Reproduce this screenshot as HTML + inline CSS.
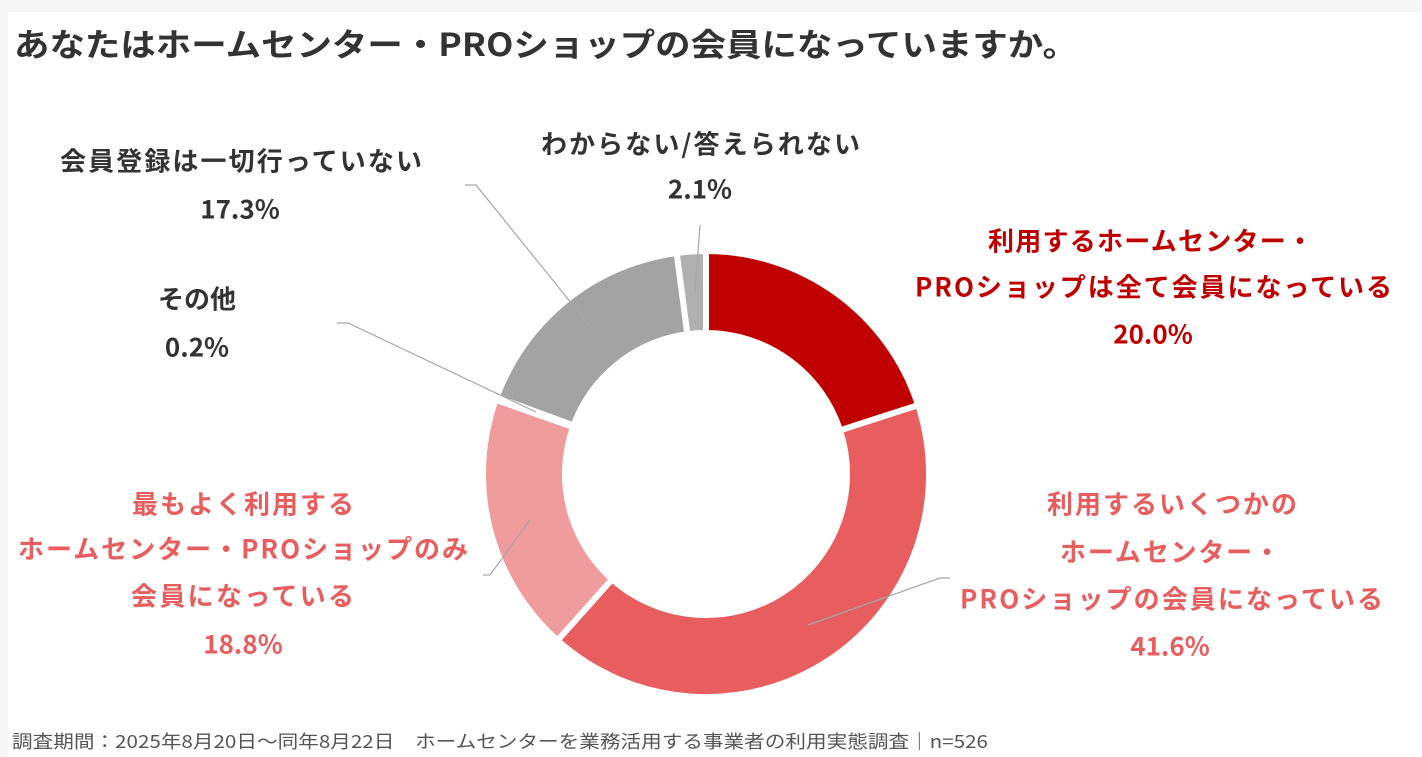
<!DOCTYPE html>
<html><head><meta charset="utf-8"><style>
html,body{margin:0;padding:0;background:#f6f6f6;width:1422px;height:757px;overflow:hidden}
svg{display:block}
text{font-family:"Noto Sans CJK JP","Liberation Sans",sans-serif;font-weight:bold}
</style></head><body>
<svg width="1422" height="757" viewBox="0 0 1422 757">
<rect x="8" y="12" width="1414" height="745" fill="#fff"/>
<text x="14" y="56" font-size="32" fill="#333" textLength="1064" lengthAdjust="spacingAndGlyphs">あなたはホームセンター・PROショップの会員になっていますか。</text>
<g stroke="#fff" stroke-width="6" stroke-linejoin="miter">
<path d="M706,251 A223,223 0 0 1 918.1,405.1 L840.1,430.4 A141,141 0 0 0 706,333 Z" fill="#C00000"/>
<path d="M918.1,405.1 A223,223 0 0 1 557.5,640.4 L612.1,579.2 A141,141 0 0 0 840.1,430.4 Z" fill="#E85D5D"/>
<path d="M557.5,640.4 A223,223 0 0 1 495.7,399.8 L573.0,427.1 A141,141 0 0 0 612.1,579.2 Z" fill="#F09C9C"/>
<path d="M496.7,397.2 A223,223 0 0 1 676.7,253 L687.4,334.2 A141,141 0 0 0 573.6,425.4 Z" fill="#A3A3A3"/>
<path d="M676.7,253 A223,223 0 0 1 706,251 L706,333 A141,141 0 0 0 687.4,334.2 Z" fill="#B0B0B0"/>
</g>
<g stroke="#a6a6a6" stroke-width="1.2" fill="none">
<polyline points="700,225 695,292"/>
<polyline points="465,185 476,185 593,330"/>
<polyline points="337,323 348,323 536,412"/>
<polyline points="483,575 490,575 530,520"/>
<polyline points="808,625 940,578 950,578"/>
</g>
<g font-size="26" dominant-baseline="central" lengthAdjust="spacingAndGlyphs">
<text x="541" y="143" fill="#333" textLength="319">わからない/答えられない</text>
<text x="700" y="188" fill="#333" text-anchor="middle">2.1%</text>
<text x="60" y="160" fill="#333" textLength="362">会員登録は一切行っていない</text>
<text x="240" y="208" fill="#333" text-anchor="middle">17.3%</text>
<text x="197" y="298" fill="#333" text-anchor="middle">その他</text>
<text x="197" y="346" fill="#333" text-anchor="middle">0.2%</text>
<text x="988" y="240" fill="#C00000" textLength="325">利用するホームセンター・</text>
<text x="915" y="286" fill="#C00000" textLength="477">PROショップは全て会員になっている</text>
<text x="1153" y="333" fill="#C00000" text-anchor="middle">20.0%</text>
<text x="132" y="503" fill="#E85D5D" textLength="222">最もよく利用する</text>
<text x="18" y="548" fill="#E85D5D" textLength="450">ホームセンター・PROショップのみ</text>
<text x="131" y="595" fill="#E85D5D" textLength="223">会員になっている</text>
<text x="243" y="643" fill="#E85D5D" text-anchor="middle">18.8%</text>
<text x="1047" y="503" fill="#E85D5D" textLength="250">利用するいくつかの</text>
<text x="1060" y="551" fill="#E85D5D" textLength="220">ホームセンター・</text>
<text x="960" y="598" fill="#E85D5D" textLength="423">PROショップの会員になっている</text>
<text x="1170" y="645" fill="#E85D5D" text-anchor="middle">41.6%</text>
</g>
<text x="12" y="748" font-size="18" fill="#555" style="font-weight:normal" textLength="976" lengthAdjust="spacingAndGlyphs">調査期間：2025年8月20日～同年8月22日　ホームセンターを業務活用する事業者の利用実態調査｜n=526</text>
</svg>
</body></html>
